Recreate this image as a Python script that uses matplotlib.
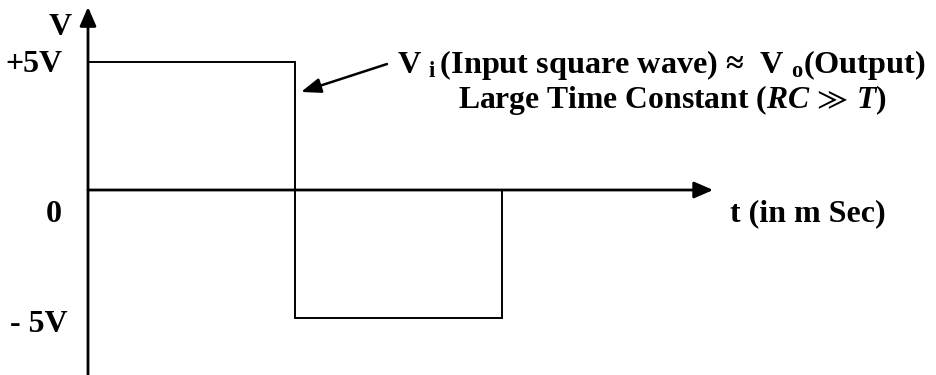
import matplotlib
matplotlib.use("Agg")
import matplotlib.pyplot as plt

# Data: square wave (time in half-periods, voltage in V)
t_wave = [0, 1, 1, 2, 2]
v_wave = [5, 5, -5, -5, 0]
y_tick_labels = ["+5V", "0", "- 5V"]
y_tick_values = [5, 0, -5]

plt.rcParams['mathtext.fontset'] = 'custom'
plt.rcParams['mathtext.rm'] = 'Liberation Serif:bold'
plt.rcParams['mathtext.bf'] = 'Liberation Serif:bold'
plt.rcParams['mathtext.it'] = 'Liberation Serif:italic:bold'
plt.rcParams['mathtext.fallback'] = 'stix'

FAM = ['Liberation Serif', 'DejaVu Serif']
FS = 23
FS2 = 23.2
FS3 = 22.8

PX_T = 207.0   # pixels per time unit
PX_V = 25.6    # pixels per volt
X0, Y0 = 88.0, 190.0

fig = plt.figure(figsize=(9.36, 3.75), dpi=100)
ax = fig.add_axes([0, 0, 1, 1])
ax.set_xlim(-X0 / PX_T, (936 - X0) / PX_T)
ax.set_ylim(-(375 - Y0) / PX_V, Y0 / PX_V)
ax.axis('off')

# wave
ax.plot(t_wave, v_wave, color='black', lw=1.4, solid_joinstyle='miter')

# axes arrows
axis_arrow = dict(arrowstyle='-|>,head_length=1.15,head_width=0.5',
                  color='black', lw=2.0, shrinkA=0, shrinkB=0)
ax.annotate('', xy=(0, 7.15), xytext=(0, -7.6), arrowprops=axis_arrow)
ax.annotate('', xy=(3.02, 0), xytext=(0, 0), arrowprops=axis_arrow)

tk = dict(fontsize=FS, fontweight='bold', family=FAM, color='black')
ax.text(-0.077, 6.35, 'V', ha='right', va='center', **tk)
ax.text(-0.121, y_tick_values[0] - 0.1, y_tick_labels[0], ha='right', va='center', **tk)
ax.text(-0.167, y_tick_values[1] - 0.94, y_tick_labels[1], ha='center', va='center', **tk)
ax.text(-0.377, y_tick_values[2] - 0.25, y_tick_labels[2], ha='left', va='center', **tk)
ax.text(3.10, -0.94, 't (in m Sec)', ha='left', va='center', **tk)

ax.text(1.493, 4.90,
        r'V $_\mathbf{i}\,$(Input square wave) ≈  V $_\mathbf{o}$(Output)',
        ha='left', va='center', **dict(tk, fontsize=FS2))
ax.text(1.787, 3.52, r'Large Time Constant ($RC\, \gg\, T$)',
        ha='left', va='center', **dict(tk, fontsize=FS3))

ax.annotate('', xy=(1.029, 3.83), xytext=(1.444, 4.92),
            arrowprops=dict(arrowstyle='-|>,head_length=1.2,head_width=0.45',
                            color='black', lw=1.8, shrinkA=0, shrinkB=0))

fig.savefig('out.png', dpi=100)
